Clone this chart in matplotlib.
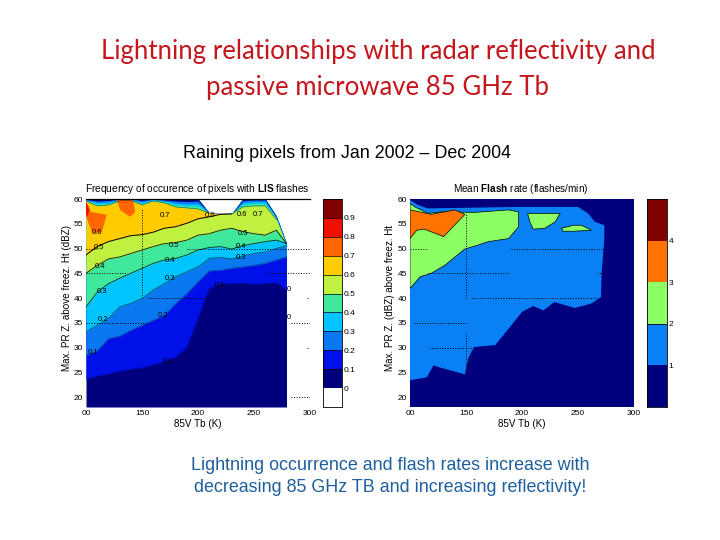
import matplotlib
matplotlib.use("Agg")
import matplotlib.pyplot as plt
import numpy as np

W, H = 720, 540

# --- left panel: frequency of occurrence, band boundaries
tb = [100, 110, 120, 130, 140, 150, 160, 170, 180, 190, 200, 210, 220, 230, 240, 250, 260, 270, 279]
ceiling = [60, 60, 60, 60, 60, 60, 60, 60, 60, 60, 60, 57.2, 57, 57, 60, 60, 60, 56.5, 51]
b01 = [23.6, 24.2, 24.7, 25.2, 25.6, 25.9, 26.5, 27.2, 28, 30, 35.9, 41.9, 42.9, 42.9, 43, 42.8, 42.9, 43.1, 41.6]
b02 = [28.4, 29.4, 31.8, 32.3, 33.5, 34.5, 35.5, 36.5, 38.9, 40.9, 43.3, 45.5, 45.6, 46, 46.3, 46.6, 47, 47.7, 48.3]
b03 = [33.2, 34.5, 35.9, 38.2, 38.9, 39.9, 41.6, 42.9, 44.3, 45.3, 46.3, 48, 48.2, 47.9, 48.5, 49, 49.3, 50, 50.6]
b04 = [38.2, 41.2, 42.9, 44, 45, 46, 47, 47.7, 48, 48.7, 49.7, 50.2, 50.4, 49.9, 50.6, 51, 51.4, 51.7, 51]
b05 = [45, 46.6, 47.9, 48.3, 49, 49.7, 50.4, 51, 51.2, 51.7, 52.7, 53, 53.7, 54.1, 53.4, 53, 52.7, 53.7, 51]
b06 = [48.7, 50.4, 51.4, 52, 52.6, 52.8, 53.3, 54.1, 54.4, 55.1, 56, 56.4, 56.9, 57, 60, 60, 60, 56.5, 51]
rim_green = [59.6, 58.6, 58.8, 59.6, 59.7, 58.8, 59.6, 59.2, 58.4, 58.2, 58, 57.2, 57, 57, 58.4, 58.6, 58.6, 55.8, 50.6]
rim_cyan = [59.7, 59, 59.1, 59.8, 59.8, 59.1, 59.8, 59.4, 58.8, 58.6, 58.6, 57.2, 57, 57, 58.9, 59.1, 59.1, 56, 50.7]
rim_dodger = [59.8, 59.3, 59.4, 59.9, 59.9, 59.4, 59.9, 59.6, 59.2, 59, 59.1, 57.2, 57, 57, 59.3, 59.5, 59.5, 56.2, 50.8]
rim_navy = [59.9, 59.6, 59.7, 60, 60, 59.7, 60, 59.8, 59.6, 59.5, 59.6, 57.2, 57, 57, 59.7, 59.8, 59.8, 56.3, 50.9]
blob1_x = [100, 104.5, 118.6, 114, 106, 102, 100]
blob1_y = [59.4, 57.4, 56.8, 53.3, 53.1, 55.3, 56.5]
blob2_x = [127.7, 142, 144, 139.3, 130.4]
blob2_y = [59.8, 59.8, 57.4, 56.4, 57.8]
red_x = [100, 103, 102, 100]
red_y = [59.4, 58, 56.8, 56.5]
label_x = [179, 175, 175, 169, 173.5, 220, 170.5, 211, 239, 240, 238, 238, 112.5, 112, 114, 115.5, 106.5, 109.5, 254, 281, 281]
label_y = [50.7, 47.5, 44, 36.5, 27.2, 42.5, 56.6, 56.6, 56.8, 53, 50.5, 48.1, 46.3, 50.2, 41.4, 35.7, 29, 53.3, 56.8, 41.8, 36]
label_s = ["0.5", "0.4", "0.3", "0.2", "0.1", "0.1", "0.7", "0.6", "0.6", "0.5", "0.4", "0.3", "0.4", "0.5", "0.3",
           "0.2", "0.1", "0.6", "0.7", "0", "0"]
left_levels = [-0.1, 0, 0.1, 0.2, 0.3, 0.4, 0.5, 0.6, 0.7, 0.8, 0.9, 1.0]
left_ticks = [0, 0.1, 0.2, 0.3, 0.4, 0.5, 0.6, 0.7, 0.8, 0.9]

# --- right panel: mean flash rate polygons
blue_x = [100, 115, 121, 128, 149, 152, 157, 176, 188, 200, 210, 219, 229, 247, 262, 270.5, 271, 273.5, 273.5, 265,
          259, 250, 247, 197, 116, 107, 100]
blue_y = [23.4, 24, 26.4, 25.9, 24.6, 27.8, 30.1, 30.5, 33.8, 37.2, 38.4, 37.5, 39.2, 38, 38.9, 40.2, 44.6, 52, 54.7,
          55.4, 57.1, 58.4, 58.4, 58.4, 58.1, 58.8, 59.8]
green_x = [100, 109, 119, 131, 149, 158, 170, 188, 197, 197, 188, 158, 128, 116, 104.5, 100]
green_y = [41.9, 44.3, 45, 46.6, 49.9, 50.5, 51.4, 52, 54.4, 57.4, 57.8, 57.3, 57.4, 57.1, 58.4, 59.1]
orange_x = [100, 106, 113, 130, 149, 140, 119, 100]
orange_y = [52, 53.7, 53.9, 52.4, 56.9, 57.8, 56.9, 57.8]
isle1_x = [205, 234, 229.7, 220.5, 210, 207]
isle1_y = [57.1, 57.1, 55.4, 54.1, 53.9, 55.4]
isle2_x = [235.4, 246, 253, 262, 247, 236.5]
isle2_y = [54.1, 54.7, 54.7, 53.7, 53.5, 53.5]
right_levels = [0, 1, 2, 3, 4, 5]
right_ticks = [1, 2, 3, 4]

x_ticks = [100, 150, 200, 250, 300]
x_labels = ["00", "150", "200", "250", "300"]
y_ticks = [20, 25, 30, 35, 40, 45, 50, 55, 60]

c_navy = "#00007f"
c_blue = "#0010e8"
c_dodger = "#0a78f0"
c_cyan = "#00c4ff"
c_green = "#40e89c"
c_lime = "#c0f040"
c_yellow = "#ffcc00"
c_orange = "#ff6600"
c_red = "#ee1100"
c_dark = "#800000"
c_flash_blue = "#0a80f5"
c_flash_green = "#8cff64"
left_colors = ["white", c_navy, c_blue, c_dodger, c_cyan, c_green, c_lime, c_yellow, c_orange, c_red, c_dark]
right_colors = [c_navy, c_flash_blue, c_flash_green, "#ff7300", c_dark]

plt.rcParams["font.family"] = "Liberation Sans"
plt.rcParams["mathtext.fontset"] = "custom"
plt.rcParams["mathtext.rm"] = "Liberation Sans"
plt.rcParams["mathtext.bf"] = "Liberation Sans:bold"
fig = plt.figure(figsize=(W / 100, H / 100), dpi=100)


def axes_px(x0, y0, x1, y1):
    return fig.add_axes([x0 / W, 1 - y1 / H, (x1 - x0) / W, (y1 - y0) / H])


def setup_panel(ax, ylabel, ylabel_x):
    ax.set_xlim(100, 300)
    ax.set_ylim(18, 60)
    ax.set_xticks(x_ticks)
    ax.set_xticklabels(x_labels)
    ax.set_yticks(y_ticks)
    ax.tick_params(length=0, labelsize=6, pad=2)
    ax.set_xlabel("85V Tb (K)", fontsize=7.1, labelpad=1.5)
    ax.text(ylabel_x, 40, ylabel, transform=ax.get_yaxis_transform(), rotation=90, fontsize=7.1,
            ha="center", va="center")
    for s in ["left", "right", "bottom"]:
        ax.spines[s].set_visible(False)


def colorbar(ax, levels, colors, ticks, labels):
    ax.bar(0, np.diff(levels), bottom=levels[:-1], width=1, color=colors, align="edge")
    ax.set_xlim(0, 1)
    ax.set_ylim(levels[0], levels[-1])
    ax.set_xticks([])
    ax.yaxis.tick_right()
    ax.set_yticks(ticks)
    ax.set_yticklabels(labels)
    ax.tick_params(length=0, labelsize=6, pad=1)
    for s in ax.spines.values():
        s.set_linewidth(0.6)


# left panel
ax = axes_px(86, 199, 310, 407)
ax.fill_between(tb, 18, ceiling, color=c_navy, lw=0)
bands = [(b01, c_blue), (b02, c_dodger), (b03, c_cyan), (b04, c_green), (b05, c_lime), (b06, c_yellow)]
for lower, col in bands:
    ax.fill_between(tb, lower, ceiling, color=col, lw=0)
rims = [(rim_green, c_green), (rim_cyan, c_cyan), (rim_dodger, c_dodger), (rim_navy, c_navy)]
for lower, col in rims:
    ax.fill_between(tb, lower, ceiling, color=col, lw=0)
ax.fill(blob1_x, blob1_y, color=c_orange, lw=0)
ax.fill(blob2_x, blob2_y, color=c_orange, lw=0)
ax.fill(red_x, red_y, color=c_red, lw=0)
for line, alpha in [(b01, 0.35), (b02, 0.35), (b03, 0.6), (b04, 0.8), (b05, 0.9)]:
    ax.plot(tb, line, color="black", lw=0.6, alpha=alpha)
ax.plot(tb[:14], b06[:14], color="black", lw=0.7)
ax.plot(tb[:-1], rim_green[:-1], color="black", lw=0.4, alpha=0.6)
for x, y, s in zip(label_x, label_y, label_s):
    ax.text(x, y, s, fontsize=5.5, ha="center", va="center", color="black")
ax.hlines([50, 50, 45, 45, 40, 35, 35, 20, 40, 30], [100, 190, 100, 262, 155, 100, 283, 283, 297, 297],
          [110, 300, 136, 300, 210, 155, 300, 300, 300, 300], color="black", lw=0.7, linestyles=":")
ax.vlines(150, 40, 58, color="black", lw=0.7, linestyles=":")
ax.spines["top"].set_linewidth(0.9)
setup_panel(ax, "Max. PR Z. above freez. Ht (dBZ)", -0.087)

cax = axes_px(323, 199, 342, 407)
colorbar(cax, left_levels, left_colors, left_ticks, ["0", "0.1", "0.2", "0.3", "0.4", "0.5", "0.6", "0.7", "0.8", "0.9"])
cax.hlines(left_ticks[1:], 0, 1, color="black", lw=0.5)

# right panel
ax2 = axes_px(410, 199, 634, 407)
ax2.set_facecolor(c_navy)
ax2.fill(blue_x, blue_y, color=c_flash_blue, lw=0)
ax2.fill(green_x, green_y, color=c_flash_green, ec="black", lw=0.5)
ax2.fill(orange_x, orange_y, color="#ff7300", ec="black", lw=0.5)
ax2.fill(isle1_x, isle1_y, color=c_flash_green, ec="black", lw=0.5)
ax2.fill(isle2_x, isle2_y, color=c_flash_green, ec="black", lw=0.5)
ax2.hlines([50, 50, 45, 45, 40, 35, 30], [100, 190, 116, 267, 155, 104, 117], [116, 273, 189, 273, 267, 152, 155],
           color="black", lw=0.7, linestyles=":")
ax2.vlines([150, 150], [40, 25], [57, 33], color="black", lw=0.7, linestyles=":")
setup_panel(ax2, "Max. PR Z. (dBZ) above freez. Ht", -0.09)
ax2.spines["top"].set_visible(False)

cax2 = axes_px(647, 199, 667, 407)
colorbar(cax2, right_levels, right_colors, right_ticks, ["1", "2", "3", "4"])
cax2.hlines(2, 0, 1, color="black", lw=0.6)

# panel titles
fig.text(197.5 / W, 1 - 189 / H, r"Frequency of occurence of pixels with $\mathbf{LIS}$ flashes", fontsize=7.3,
         ha="center", va="center")
fig.text(521 / W, 1 - 189 / H, r"Mean $\mathbf{Flash}$ rate (flashes/min)", fontsize=7.2, ha="center", va="center")

# slide text
title_col = "#c4161c"
fig.text(378 / W, 1 - 52 / H, "Lightning relationships with radar reflectivity and", fontsize=18.5,
         family="Lato", color=title_col, ha="center", va="center")
fig.text(378 / W, 1 - 87 / H, "passive microwave 85 GHz Tb", fontsize=18.5, family="Lato", color=title_col,
         ha="center", va="center")
fig.text(347 / W, 1 - 153 / H, "Raining pixels from Jan 2002 – Dec 2004", fontsize=12.9, ha="center", va="center")
note_col = "#1f5f9e"
fig.text(390 / W, 1 - 465 / H, "Lightning occurrence and flash rates increase with", fontsize=12.9, color=note_col,
         ha="center", va="center")
fig.text(390 / W, 1 - 487 / H, "decreasing 85 GHz TB and increasing reflectivity!", fontsize=12.9, color=note_col,
         ha="center", va="center")

fig.savefig("out.png", dpi=100)
